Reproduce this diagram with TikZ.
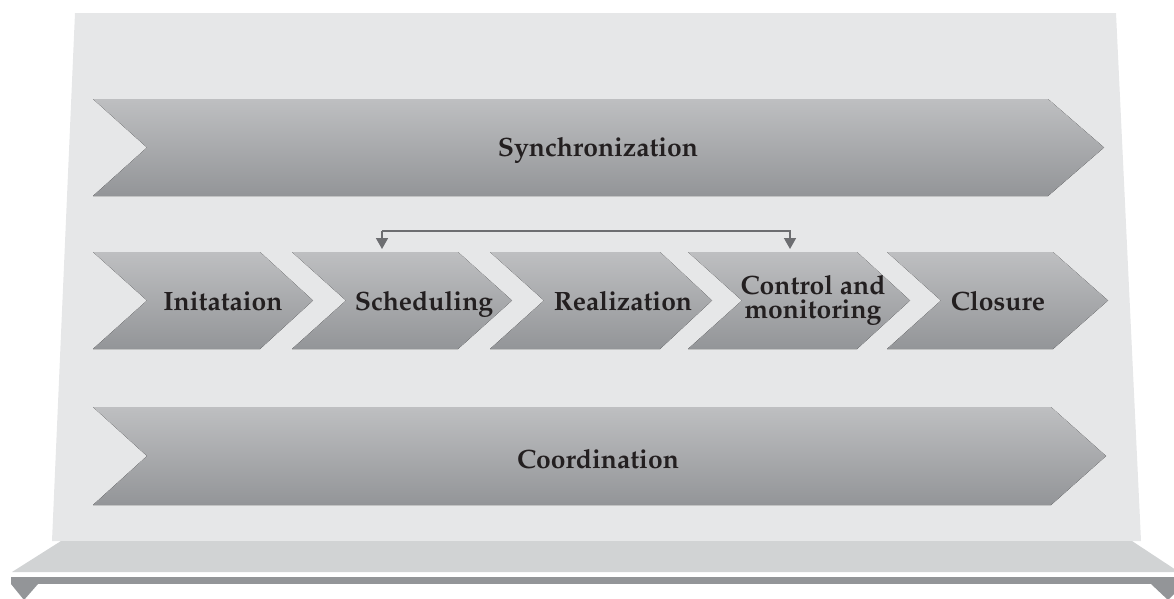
\documentclass[tikz,border=0pt]{standalone}
\usepackage[T1]{fontenc}
\usepackage{mathpazo}
\usetikzlibrary{arrows.meta}
\definecolor{panel}{HTML}{E6E7E8}
\definecolor{shelf}{HTML}{D1D3D4}
\definecolor{bar}{HTML}{939598}
\definecolor{chevtop}{HTML}{BEBFC1}
\definecolor{chevbot}{HTML}{939598}
\definecolor{linkc}{HTML}{6D6E71}
\definecolor{txt}{HTML}{231F20}
\tikzset{
  chevfill/.style={top color=chevtop,bottom color=chevbot,draw=none},
  lbl/.style={text=txt,font=\fontsize{26.5}{28}\selectfont\bfseries,align=center,inner sep=0pt},
  link/.style={draw=linkc,line width=1.6pt,-{Triangle[width=12pt,length=11pt]}}
}
\newcommand{\chevshape}[5]{% left, top, bottom, flat end, tip
  \fill[chevfill] (#1,#2) -- (#4,#2) -- (#5,{(#2+#3)/2}) -- (#4,#3) -- (#1,#3) -- ({#1+54},{(#2+#3)/2}) -- cycle;}
\begin{document}
\begin{tikzpicture}[x=1pt,y=-1pt]
\useasboundingbox (0,0) rectangle (1174,598);
% panel
\fill[panel] (75,13) -- (1116,13) -- (1141,541) -- (52,541) -- cycle;
% shelf
\fill[shelf] (61,541) -- (1132,541) -- (1176,570) -- (1176,572) -- (12,572) -- cycle;
% bar
\fill[bar] (11,577) rectangle (1176,584);
\fill[bar] (11,584) -- (38,584) -- (24,600) -- cycle;
\fill[bar] (1151,584) -- (1184,584) -- (1168,600) -- cycle;
% big arrows
\chevshape{93}{99}{196}{1048}{1104}
\chevshape{93}{407}{505}{1051}{1106}
% small chevrons
\chevshape{93}{252}{349}{260}{313}
\chevshape{292}{252}{349}{458}{512}
\chevshape{490}{252}{349}{660}{712}
\chevshape{688}{252}{349}{857}{910}
\chevshape{887}{252}{349}{1053}{1108}
% labels
\node[lbl,anchor=base] (sync) at (598,156) {Synchronization};
\node[lbl,anchor=base] (coord) at (598,468) {Coordination};
\node[lbl,anchor=base] (init) at (223,310) {Initataion};
\node[lbl,anchor=base] (sched) at (424,310) {Scheduling};
\node[lbl,anchor=base] (real) at (623,310) {Realization};
\node[lbl] (ctrl) at (813,300) {Control and\\[-4pt]monitoring};
\node[lbl,anchor=base] (clos) at (998,310) {Closure};
% connector
\coordinate (sTop) at (382,249);
\coordinate (cTop) at (790,249);
\draw[link] (382,231) -- (sTop);
\draw[link] (382,231) -- (790,231) -- (cTop);
\end{tikzpicture}
\end{document}
